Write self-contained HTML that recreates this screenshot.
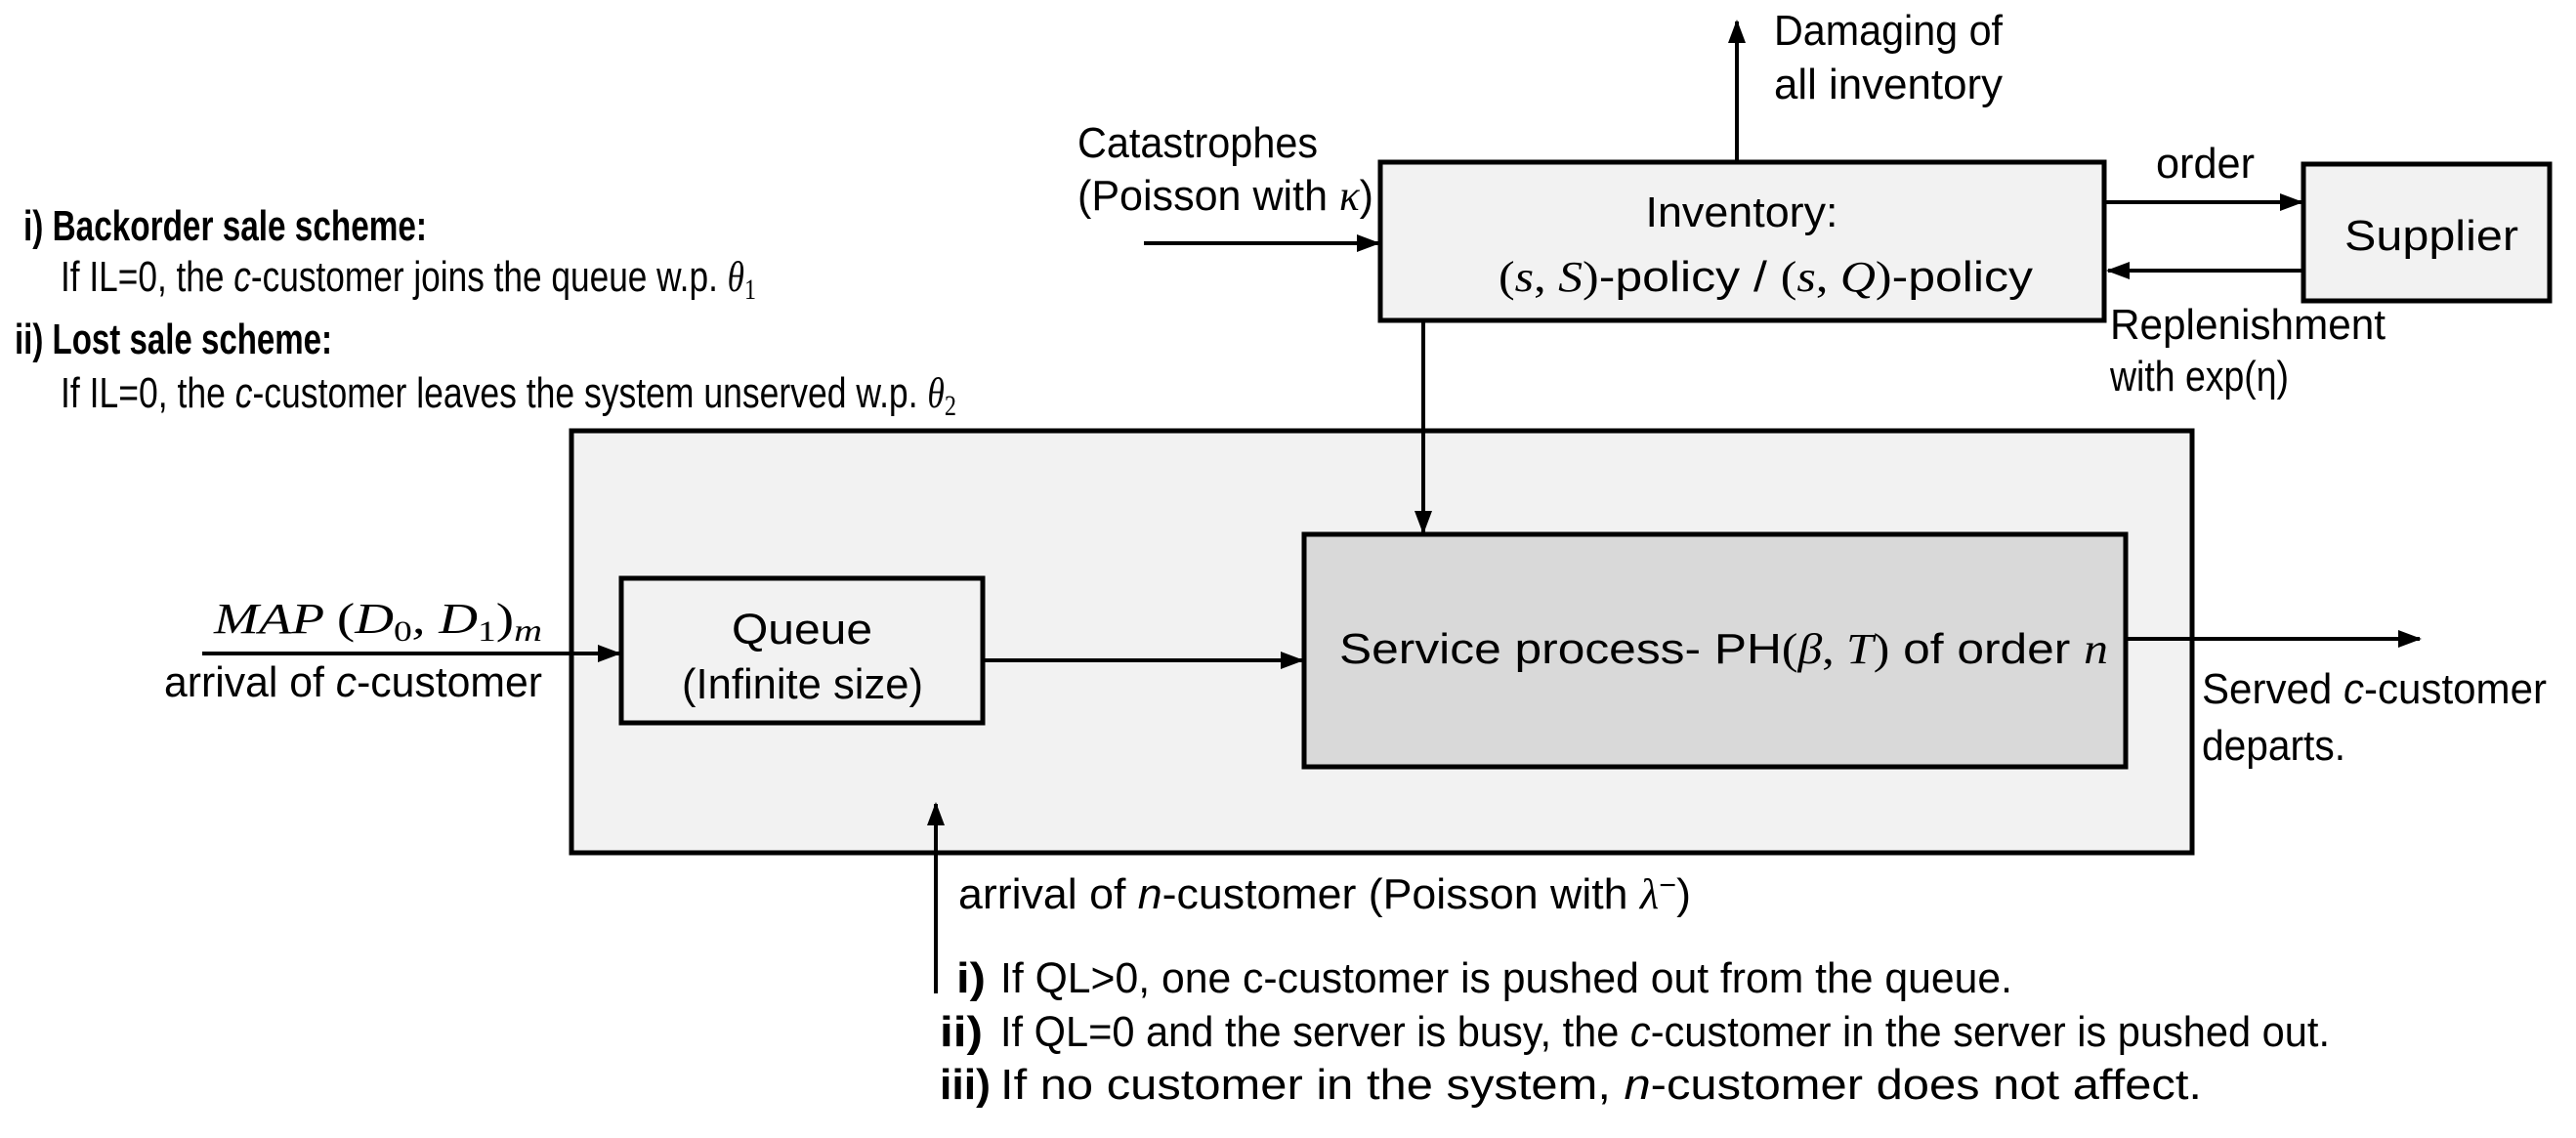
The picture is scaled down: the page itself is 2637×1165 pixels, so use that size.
<!DOCTYPE html>
<html><head><meta charset="utf-8"><style>
html,body{margin:0;padding:0;background:#fff;}
svg{display:block;}
text{font-family:"Liberation Sans",sans-serif;font-size:44px;fill:#000;}
.m{font-family:"Liberation Serif",serif;font-style:italic;}
.r{font-family:"Liberation Serif",serif;}
</style></head><body>
<svg width="2637" height="1165" viewBox="0 0 2637 1165" xmlns="http://www.w3.org/2000/svg">
<defs>
<marker id="b" markerWidth="24" markerHeight="22" refX="22" refY="11" orient="auto" markerUnits="userSpaceOnUse" viewBox="0 0 24 22">
<path d="M0,2 L24,11 L0,20 z" fill="#000"/></marker>
</defs>
<g stroke="#000" stroke-width="5">
<rect x="585" y="441" width="1659" height="432" fill="#f2f2f2"/>
<rect x="1413" y="166" width="741" height="162" fill="#f2f2f2"/>
<rect x="2358" y="168" width="252" height="140" fill="#f2f2f2"/>
<rect x="636" y="592" width="370" height="148" fill="#f2f2f2"/>
<rect x="1335" y="547" width="841" height="238" fill="#d9d9d9"/>
</g>
<g stroke="#000" stroke-width="4" fill="none">
<line x1="1778" y1="166" x2="1778" y2="22" marker-end="url(#b)"/>
<line x1="1171" y1="249" x2="1411" y2="249" marker-end="url(#b)"/>
<line x1="2156" y1="207" x2="2356" y2="207" marker-end="url(#b)"/>
<line x1="2358" y1="277" x2="2158" y2="277" marker-end="url(#b)"/>
<line x1="1457" y1="330" x2="1457" y2="545" marker-end="url(#b)"/>
<line x1="207" y1="669" x2="634" y2="669" marker-end="url(#b)"/>
<line x1="1008" y1="676" x2="1333" y2="676" marker-end="url(#b)"/>
<line x1="2178" y1="654" x2="2477" y2="654" marker-end="url(#b)"/>
<line x1="958" y1="1017" x2="958" y2="823" marker-end="url(#b)"/>
</g>
<text x="1816" y="46" textLength="234" lengthAdjust="spacingAndGlyphs">Damaging of</text>
<text x="1816" y="101" textLength="234" lengthAdjust="spacingAndGlyphs">all inventory</text>
<text x="1103" y="161" textLength="246" lengthAdjust="spacingAndGlyphs">Catastrophes</text>
<text x="1103" y="215" textLength="303" lengthAdjust="spacingAndGlyphs">(Poisson with <tspan class="m">κ</tspan>)</text>
<text x="24" y="246" font-weight="bold" textLength="413" lengthAdjust="spacingAndGlyphs">i) Backorder sale scheme:</text>
<text x="62" y="298" textLength="712" lengthAdjust="spacingAndGlyphs">If IL=0, the <tspan font-style="italic">c</tspan>-customer joins the queue w.p. <tspan class="m">θ</tspan><tspan class="r" font-size="30" dy="8">1</tspan></text>
<text x="15" y="362" font-weight="bold" textLength="325" lengthAdjust="spacingAndGlyphs">ii) Lost sale scheme:</text>
<text x="62" y="417" textLength="917" lengthAdjust="spacingAndGlyphs">If IL=0, the <tspan font-style="italic">c</tspan>-customer leaves the system unserved w.p. <tspan class="m">θ</tspan><tspan class="r" font-size="30" dy="8">2</tspan></text>
<text x="1783" y="232" font-size="46" text-anchor="middle" textLength="197" lengthAdjust="spacingAndGlyphs">Inventory:</text>
<text x="1534" y="298" font-size="46" textLength="547" lengthAdjust="spacingAndGlyphs"><tspan class="r">(</tspan><tspan class="m">s</tspan><tspan class="r">, </tspan><tspan class="m">S</tspan><tspan class="r">)</tspan>-policy / <tspan class="r">(</tspan><tspan class="m">s</tspan><tspan class="r">, </tspan><tspan class="m">Q</tspan><tspan class="r">)</tspan>-policy</text>
<text x="2207" y="182" textLength="101" lengthAdjust="spacingAndGlyphs">order</text>
<text x="2400" y="256" font-size="46" textLength="178" lengthAdjust="spacingAndGlyphs">Supplier</text>
<text x="2160" y="347" textLength="282" lengthAdjust="spacingAndGlyphs">Replenishment</text>
<text x="2160" y="400" textLength="183" lengthAdjust="spacingAndGlyphs">with exp(η)</text>
<text x="219" y="648" font-size="46" class="m" textLength="336" lengthAdjust="spacingAndGlyphs">MAP <tspan font-style="normal">(</tspan>D<tspan font-style="normal" font-size="30" dy="8">0</tspan><tspan dy="-8">, D</tspan><tspan font-style="normal" font-size="30" dy="8">1</tspan><tspan font-style="normal" dy="-8">)</tspan><tspan font-size="32" dy="8">m</tspan></text>
<text x="168" y="713" textLength="387" lengthAdjust="spacingAndGlyphs">arrival of <tspan font-style="italic">c</tspan>-customer</text>
<text x="821" y="659" font-size="46" text-anchor="middle" textLength="144" lengthAdjust="spacingAndGlyphs">Queue</text>
<text x="698" y="715" font-size="37" textLength="247" lengthAdjust="spacingAndGlyphs">(Infinite size)</text>
<text x="1371" y="679" font-size="46" textLength="787" lengthAdjust="spacingAndGlyphs">Service process- PH<tspan class="r">(</tspan><tspan class="m">β</tspan><tspan class="r">, </tspan><tspan class="m">T</tspan><tspan class="r">)</tspan> of order <tspan class="m">n</tspan></text>
<text x="2254" y="720" textLength="353" lengthAdjust="spacingAndGlyphs">Served <tspan font-style="italic">c</tspan>-customer</text>
<text x="2254" y="778" textLength="147" lengthAdjust="spacingAndGlyphs">departs.</text>
<text x="981" y="930" textLength="750" lengthAdjust="spacingAndGlyphs">arrival of <tspan font-style="italic">n</tspan>-customer (Poisson with <tspan class="m">λ</tspan><tspan font-size="30" dy="-14">−</tspan><tspan dy="14">)</tspan></text>
<text x="979" y="1016" font-weight="bold" textLength="30" lengthAdjust="spacingAndGlyphs">i)</text>
<text x="1024" y="1016" textLength="1036" lengthAdjust="spacingAndGlyphs">If QL&gt;0, one c-customer is pushed out from the queue.</text>
<text x="962" y="1071" font-weight="bold" textLength="44" lengthAdjust="spacingAndGlyphs">ii)</text>
<text x="1024" y="1071" textLength="1361" lengthAdjust="spacingAndGlyphs">If QL=0 and the server is busy, the <tspan font-style="italic">c</tspan>-customer in the server is pushed out.</text>
<text x="962" y="1125" font-weight="bold" textLength="52" lengthAdjust="spacingAndGlyphs">iii)</text>
<text x="1024" y="1125" textLength="1230" lengthAdjust="spacingAndGlyphs">If no customer in the system, <tspan font-style="italic">n</tspan>-customer does not affect.</text>
</svg>
</body></html>
